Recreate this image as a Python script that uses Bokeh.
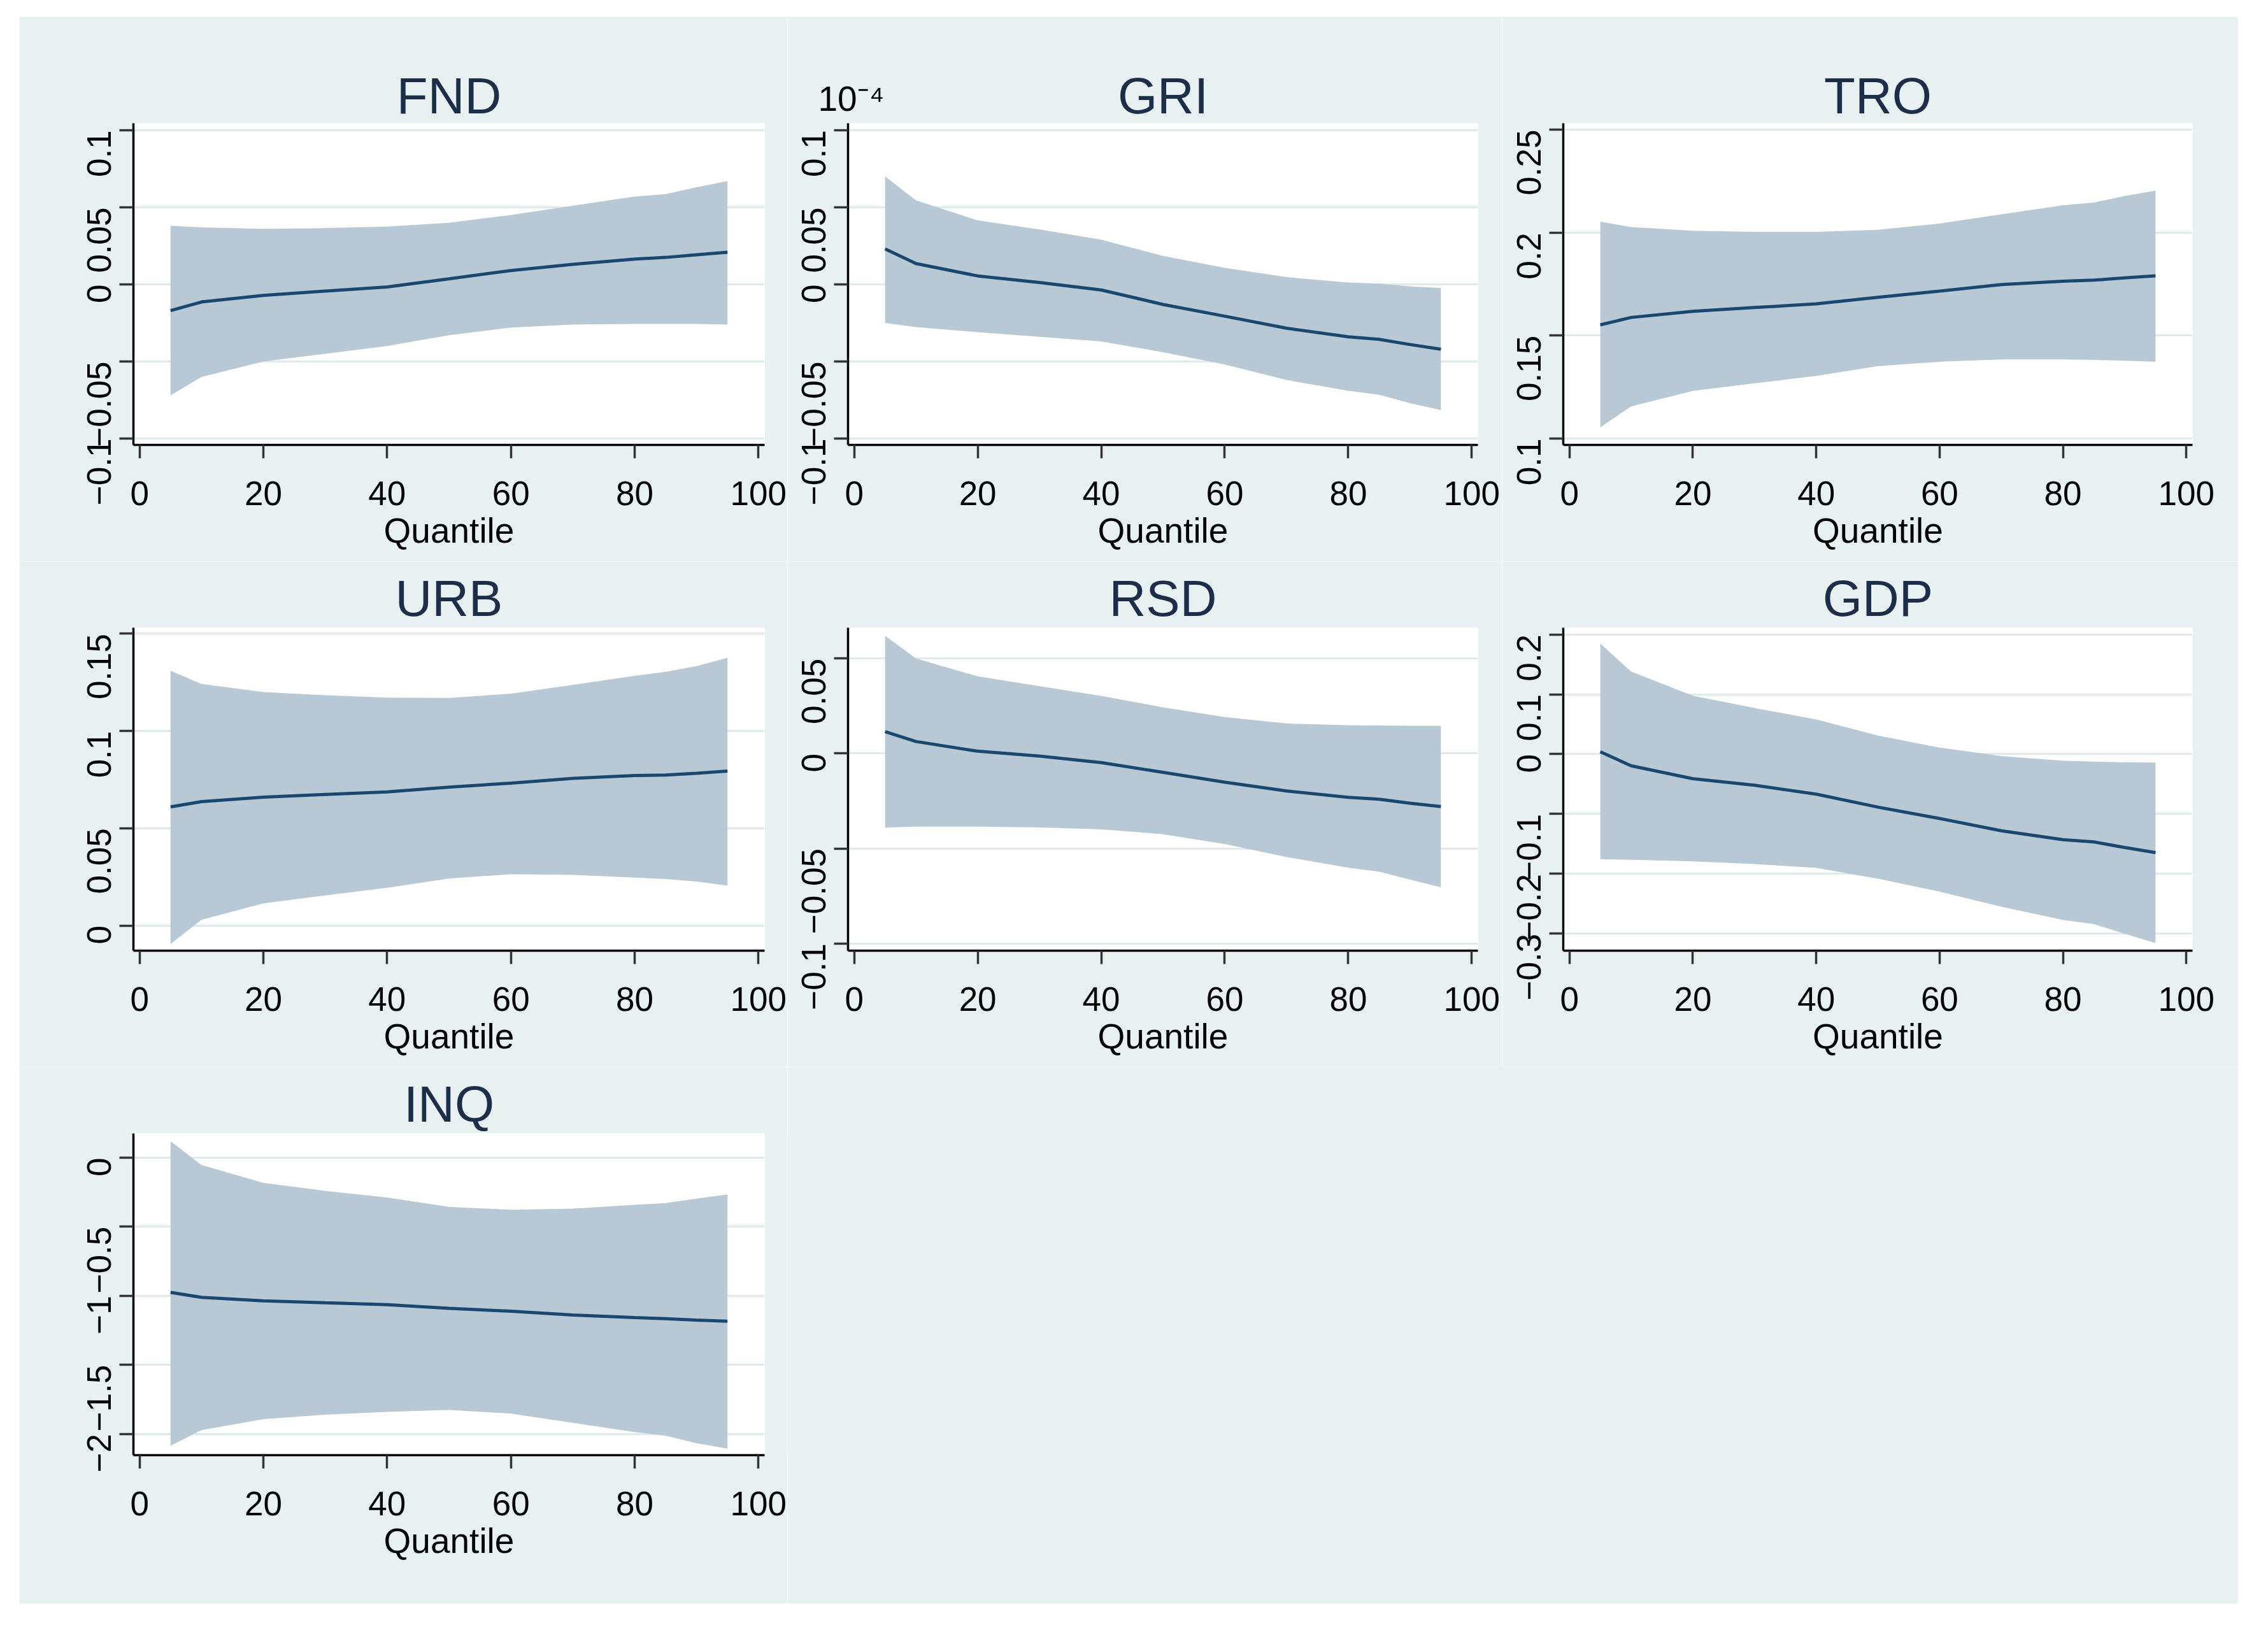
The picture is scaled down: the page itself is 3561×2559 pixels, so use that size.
import math
from bokeh.plotting import figure
from bokeh.layouts import row, column, Spacer
from bokeh.models import FixedTicker, CustomJSTickFormatter, Label, Range1d, Title
from bokeh.embed import file_html
from bokeh.resources import INLINE

BG = "#e8f0f2"
BAND = "#b8c9d5"
LINE = "#1a476f"
TITLE_C = "#1c2e4a"
FONT = "Liberation Sans"

# ---------------- data ----------------
quantiles = [5, 10, 20, 30, 40, 50, 60, 70, 80, 85, 90, 95]
x_ticks = [0, 20, 40, 60, 80, 100]

fnd_mid = [-0.017, -0.0114, -0.0071, -0.0043, -0.0017, 0.0036, 0.009, 0.013, 0.0164, 0.0175, 0.0192, 0.0209]
fnd_up = [0.038, 0.037, 0.036, 0.0365, 0.0375, 0.040, 0.045, 0.051, 0.057, 0.0585, 0.063, 0.067]
fnd_lo = [-0.072, -0.060, -0.050, -0.045, -0.040, -0.033, -0.028, -0.026, -0.0256, -0.0256, -0.0256, -0.026]
fnd_ticks = [-0.1, -0.05, 0, 0.05, 0.1]

gri_mid = [0.023, 0.0135, 0.0055, 0.0012, -0.0036, -0.013, -0.0206, -0.0284, -0.034, -0.0356, -0.039, -0.042]
gri_up = [0.070, 0.0545, 0.0415, 0.0356, 0.029, 0.0185, 0.0107, 0.0047, 0.0012, 0.0005, -0.0012, -0.0024]
gri_lo = [-0.025, -0.0277, -0.031, -0.034, -0.037, -0.044, -0.052, -0.062, -0.069, -0.0716, -0.077, -0.0815]
gri_ticks = [-0.1, -0.05, 0, 0.05, 0.1]
gri_scale = "10\u207b\u2074"

tro_mid = [0.1552, 0.1588, 0.1618, 0.1636, 0.1654, 0.1686, 0.1716, 0.1748, 0.1764, 0.1769, 0.178, 0.179]
tro_up = [0.2053, 0.2027, 0.2009, 0.2004, 0.2004, 0.2014, 0.2044, 0.2089, 0.2133, 0.2146, 0.2178, 0.2204]
tro_lo = [0.1055, 0.1156, 0.1231, 0.1268, 0.1304, 0.1352, 0.1373, 0.1384, 0.1384, 0.1382, 0.1378, 0.1373]
tro_ticks = [0.1, 0.15, 0.2, 0.25]

urb_mid = [0.061, 0.0637, 0.066, 0.0674, 0.0687, 0.0712, 0.0732, 0.0757, 0.0771, 0.0774, 0.0783, 0.0794]
urb_up = [0.131, 0.1242, 0.120, 0.1184, 0.1172, 0.117, 0.1192, 0.1237, 0.1284, 0.1304, 0.1334, 0.1376]
urb_lo = [-0.0095, 0.003, 0.0114, 0.0155, 0.0194, 0.0242, 0.0264, 0.0261, 0.0247, 0.0239, 0.0226, 0.0206]
urb_ticks = [0, 0.05, 0.1, 0.15]

rsd_mid = [0.0115, 0.0063, 0.0012, -0.0014, -0.0048, -0.0099, -0.0151, -0.0197, -0.0231, -0.0241, -0.0262, -0.0279]
rsd_up = [0.062, 0.050, 0.0406, 0.0354, 0.0303, 0.0243, 0.0192, 0.0158, 0.0149, 0.0147, 0.0146, 0.0146]
rsd_lo = [-0.039, -0.0385, -0.0385, -0.0389, -0.0399, -0.0425, -0.0476, -0.0545, -0.0601, -0.0622, -0.0664, -0.0704]
rsd_ticks = [-0.1, -0.05, 0, 0.05]

gdp_mid = [0.004, -0.0195, -0.041, -0.052, -0.0668, -0.0885, -0.1075, -0.128, -0.1428, -0.1466, -0.156, -0.1645]
gdp_up = [0.1846, 0.138, 0.0977, 0.0771, 0.058, 0.031, 0.0109, -0.0033, -0.0109, -0.0125, -0.0136, -0.0141]
gdp_lo = [-0.1754, -0.1765, -0.179, -0.1835, -0.19, -0.208, -0.2296, -0.255, -0.277, -0.284, -0.300, -0.3154]
gdp_ticks = [-0.3, -0.2, -0.1, 0, 0.1, 0.2]

inq_mid = [-0.976, -1.011, -1.037, -1.051, -1.064, -1.091, -1.112, -1.139, -1.158, -1.166, -1.176, -1.184]
inq_up = [0.118, -0.053, -0.182, -0.241, -0.289, -0.356, -0.377, -0.369, -0.342, -0.329, -0.297, -0.267]
inq_lo = [-2.086, -1.973, -1.893, -1.861, -1.840, -1.826, -1.853, -1.920, -1.987, -2.013, -2.067, -2.107]
inq_ticks = [-2, -1.5, -1, -0.5, 0]

# ---------------- layout geometry ----------------
COL_W = [1206, 1122, 1156]
COL_L = [179, 95, 96]
COL_R = [36, 38, 72]
ROW_H = [855, 794, 842]
ROW_T = [167, 104, 104]
ROW_B = [183, 183, 233]
TITLE_STANDOFF = [-2, 4, 4]
X_LO, X_HI = -1, 101

fmt = CustomJSTickFormatter(code="""
    var s = (+tick.toFixed(4)).toString();
    return s.replace('-', '\u2212');
""")


def panel(name, mid, up, lo, yticks, ylo, yhi, c, r, scale_text=None):
    w, h = COL_W[c], ROW_H[r]
    L, R, T, B = COL_L[c], COL_R[c], ROW_T[r], ROW_B[r]
    frame_w = w - L - R
    frame_h = h - T - B
    p = figure(width=w, height=h, x_range=Range1d(X_LO, X_HI), y_range=Range1d(ylo, yhi),
               output_backend="svg", toolbar_location=None, title=None,
               min_border_left=L, min_border_right=R, min_border_top=T, min_border_bottom=B)
    p.background_fill_color = "white"
    p.border_fill_color = BG
    p.outline_line_color = None

    # panel title, innermost element of the top panel
    p.add_layout(Title(text=name, align="center", text_font=FONT, text_font_size="80px",
                       text_font_style="normal", text_color=TITLE_C,
                       standoff=TITLE_STANDOFF[r]), "above")

    p.varea(x=quantiles, y1=lo, y2=up, fill_color=BAND, fill_alpha=1.0)
    p.line(quantiles, mid, line_color=LINE, line_width=5)

    yt = FixedTicker(ticks=yticks, minor_ticks=[])
    xt = FixedTicker(ticks=x_ticks, minor_ticks=[])
    p.xaxis.ticker = xt
    p.yaxis.ticker = yt
    p.ygrid.ticker = yt
    p.xgrid.visible = False
    p.ygrid.grid_line_color = "#e0e9ec"
    p.ygrid.grid_line_width = 3
    p.yaxis.formatter = fmt

    for ax in (p.xaxis[0], p.yaxis[0]):
        ax.axis_line_color = "black"
        ax.axis_line_width = 3.5
        ax.major_tick_line_color = "#333333"
        ax.major_tick_line_width = 3.5
        ax.major_tick_in = 0
        ax.minor_tick_line_color = None
        ax.major_label_text_font = FONT
        ax.major_label_text_font_size = "53px"
        ax.major_label_text_color = "black"
    p.xaxis.major_tick_out = 21
    p.xaxis.major_label_standoff = 36
    p.yaxis.major_tick_out = 22
    p.yaxis.major_label_standoff = 32
    p.yaxis.major_label_orientation = math.pi / 2

    p.xaxis.axis_label = "Quantile"
    p.xaxis.axis_label_text_font = FONT
    p.xaxis.axis_label_text_font_size = "55px"
    p.xaxis.axis_label_text_font_style = "normal"
    p.xaxis.axis_label_text_color = "black"
    p.xaxis.axis_label_standoff = 6

    if scale_text is not None:
        # multiplier shown at the top-left of the y axis (placed in the top panel so it is not clipped)
        per_px_x = (X_HI - X_LO) / frame_w
        per_px_y = (yhi - ylo) / frame_h
        p.add_layout(Label(x=X_LO - 47 * per_px_x, y=yhi + 39 * per_px_y,
                           text=scale_text, text_align="left", text_baseline="alphabetic",
                           text_font=FONT, text_font_size="55px", text_color="black"), "above")
    return p


fnd = panel("FND", fnd_mid, fnd_up, fnd_lo, fnd_ticks, -0.1041, 0.1045, 0, 0)
gri = panel("GRI", gri_mid, gri_up, gri_lo, gri_ticks, -0.1041, 0.1045, 1, 0, scale_text=gri_scale)
tro = panel("TRO", tro_mid, tro_up, tro_lo, tro_ticks, 0.0969, 0.2531, 2, 0)
urb = panel("URB", urb_mid, urb_up, urb_lo, urb_ticks, -0.0129, 0.1531, 0, 1)
rsd = panel("RSD", rsd_mid, rsd_up, rsd_lo, rsd_ticks, -0.1038, 0.0662, 1, 1)
gdp = panel("GDP", gdp_mid, gdp_up, gdp_lo, gdp_ticks, -0.3283, 0.2112, 2, 1)
inq = panel("INQ", inq_mid, inq_up, inq_lo, inq_ticks, -2.154, 0.175, 0, 2)

blank = figure(width=COL_W[1] + COL_W[2], height=ROW_H[2], output_backend="svg",
               toolbar_location=None, min_border=0)
blank.axis.visible = False
blank.grid.visible = False
blank.outline_line_color = None
blank.background_fill_color = BG
blank.border_fill_color = BG

grid = column(row(fnd, gri, tro), row(urb, rsd, gdp), row(inq, blank))
root = column(Spacer(width=10, height=26), row(Spacer(width=30, height=10), grid))

open("out.html", "w").write(file_html(root, INLINE))
